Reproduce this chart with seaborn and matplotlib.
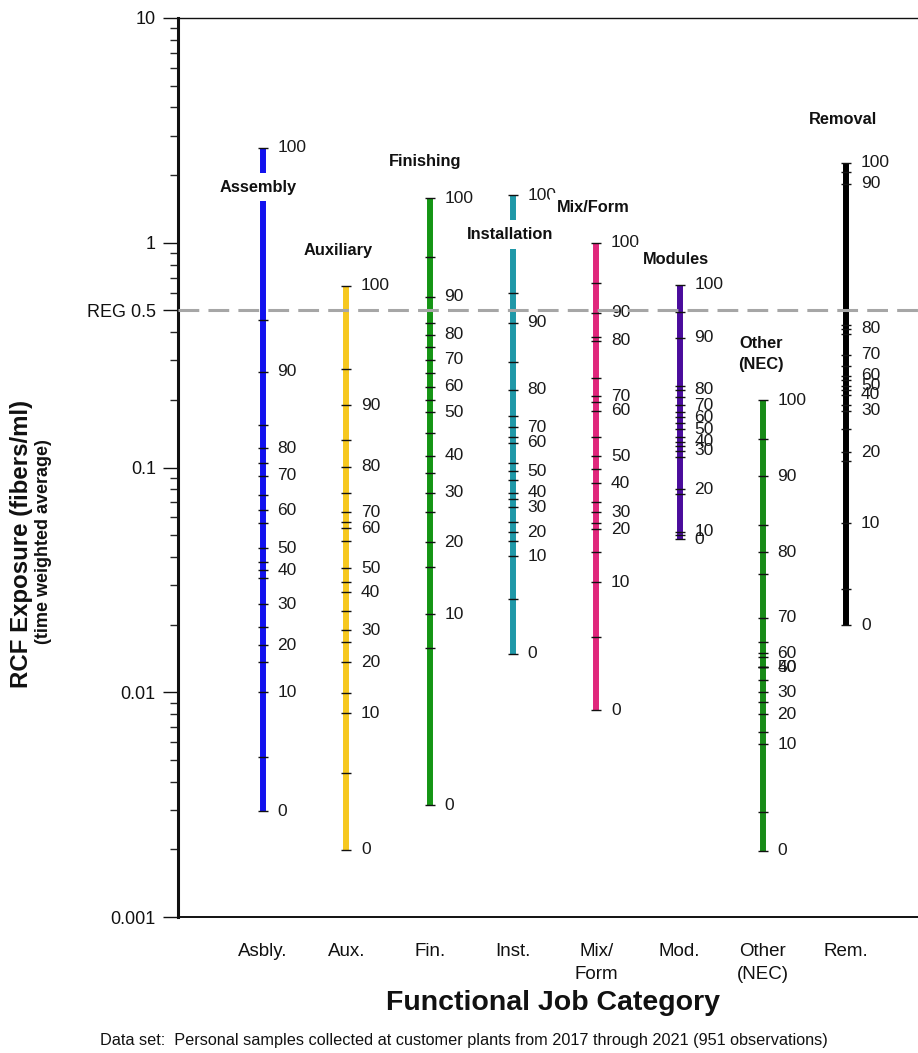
import numpy as np
import pandas as pd
import matplotlib
matplotlib.use("Agg")
import matplotlib.pyplot as plt
import matplotlib.ticker as mticker
import seaborn as sns

# Job categories and their short axis labels
categories = ["Assembly", "Auxiliary", "Finishing", "Installation",
              "Mix/Form", "Modules", "Other\n(NEC)", "Removal"]
short_names = ["Asbly.", "Aux.", "Fin.", "Inst.", "Mix/\nForm", "Mod.",
               "Other\n(NEC)", "Rem."]
colors = ["#1212ee", "#f6c81f", "#159515", "#1f98a8",
          "#e0277c", "#4a0c9c", "#178b17", "#000000"]

# Percentiles at which exposures are marked (labels every 10th)
percentiles = list(range(0, 101, 5))

# RCF exposure (fibers/ml, TWA) at each 5th percentile, 0th -> 100th
assembly = [0.00296, 0.00514, 0.0100, 0.0137, 0.0162, 0.0195, 0.0246, 0.0321,
            0.0349, 0.0378, 0.0437, 0.0564, 0.0644, 0.0751, 0.0921, 0.1052,
            0.1215, 0.1553, 0.267, 0.455, 2.64]
auxiliary = [0.00199, 0.00437, 0.00807, 0.0099, 0.0136, 0.0167, 0.0189, 0.0229,
             0.0278, 0.0311, 0.0356, 0.0469, 0.0536, 0.0570, 0.0631, 0.0774,
             0.101, 0.133, 0.189, 0.273, 0.644]
finishing = [0.00315, 0.0157, 0.0222, 0.0359, 0.0464, 0.0631, 0.0774, 0.0950,
             0.113, 0.143, 0.176, 0.199, 0.229, 0.264, 0.302, 0.345,
             0.390, 0.441, 0.575, 0.866, 1.58]
installation = [0.0148, 0.0259, 0.0402, 0.0469, 0.0514, 0.0570, 0.0664, 0.0721,
                0.0774, 0.0884, 0.0960, 0.105, 0.129, 0.136, 0.151, 0.169,
                0.222, 0.296, 0.441, 0.600, 1.63]
mix_form = [0.00832, 0.0177, 0.0308, 0.0419, 0.0530, 0.0564, 0.0631, 0.0699,
            0.0849, 0.0980, 0.112, 0.137, 0.179, 0.195, 0.207, 0.251,
            0.367, 0.382, 0.489, 0.664, 1.00]
modules = [0.0479, 0.0499, 0.0519, 0.0759, 0.0799, 0.111, 0.119, 0.125,
           0.130, 0.137, 0.148, 0.157, 0.167, 0.176, 0.189, 0.205,
           0.222, 0.231, 0.378, 0.494, 0.651]
other_nec = [0.00197, 0.00293, 0.00587, 0.00664, 0.00799, 0.00903, 0.0100, 0.0113,
             0.0129, 0.0129, 0.0129, 0.0143, 0.0149, 0.0167, 0.0215, 0.0335,
             0.0419, 0.0552, 0.0912, 0.1345, 0.199]
removal = [0.0199, 0.0287, 0.0564, 0.107, 0.117, 0.148, 0.179, 0.189,
           0.211, 0.222, 0.231, 0.244, 0.256, 0.284, 0.318, 0.394,
           0.415, 0.432, 1.83, 2.07, 2.27]

series = [assembly, auxiliary, finishing, installation,
          mix_form, modules, other_nec, removal]

reg_limit = 0.5
y_ticks = [0.001, 0.01, 0.1, 0.5, 1, 10]
y_tick_labels = ["0.001", "0.01", "0.1", "REG 0.5", "1", "10"]

# Long-form table: one row per (category, percentile)
rows = []
for i, (cat, vals) in enumerate(zip(categories, series)):
    for p, v in zip(percentiles, vals):
        rows.append({"category": cat, "pos": i, "pct": p, "value": v})
df = pd.DataFrame(rows)

sns.set_style("ticks")
plt.rcParams["font.family"] = ["Liberation Sans", "DejaVu Sans"]

W, H = 918, 1053
fig = plt.figure(figsize=(W / 100, H / 100), dpi=100)
ax = fig.add_axes([178 / W, 1 - 917 / H, 1 - 178 / W, (917 - 18) / H])

# Vertical percentile lines
sns.lineplot(data=df, x="pos", y="value", hue="category", units="category",
             estimator=None, sort=False, palette=dict(zip(categories, colors)),
             linewidth=4.3, legend=False, ax=ax, zorder=2,
             solid_capstyle="butt")

# Percentile tick marks across each line
for i, vals in enumerate(series):
    ax.plot([i] * len(vals), vals, linestyle="none", marker="_",
            markersize=7.5, markeredgewidth=1.0, color="#111111", zorder=3)
    for p, v in zip(percentiles, vals):
        if p % 10 == 0:
            ax.annotate(str(p), (i, v), xytext=(10.5, 0),
                        textcoords="offset points", ha="left", va="center",
                        fontsize=12.5, color="#1a1a1a", zorder=4)

# Category titles above each line
title_pos = [(-0.06, 1.77), (0.90, 0.92), (1.94, 2.29), (2.96, 1.085),
             (3.96, 1.43), (4.96, 0.84), (5.98, 0.32), (6.96, 3.52)]
for name, (tx, ty) in zip(categories, title_pos):
    ax.text(tx, ty, name, ha="center", va="center", fontsize=11.8,
            fontweight="bold", color="#111111", linespacing=1.5, zorder=5,
            bbox=dict(facecolor="white", edgecolor="none", pad=5.0))

# Regulatory limit
ref = ax.axhline(reg_limit, color="#a6a6a6", lw=2.2, zorder=6)
ref.set_dashes((6.8, 3.0))

ax.set_yscale("log")
ax.set_ylim(0.001, 10)
ax.set_xlim(-1.02, 7.86)
ax.set_yticks(y_ticks)
ax.set_yticklabels(y_tick_labels)
ax.yaxis.set_minor_locator(mticker.LogLocator(base=10, subs=np.arange(2, 10)))
ax.yaxis.set_minor_formatter(mticker.NullFormatter())
ax.tick_params(axis="y", which="major", length=11, width=1.0, pad=5,
               labelsize=13, colors="#111111")
ax.tick_params(axis="y", which="minor", length=6, width=1.0)
ax.set_xticks(range(len(categories)))
ax.set_xticklabels(short_names, linespacing=1.4)
ax.tick_params(axis="x", length=0, pad=19, labelsize=13.5, colors="#111111")
ax.set_xlabel("")
ax.set_ylabel("")

ax.spines["left"].set_linewidth(2.2)
ax.spines["bottom"].set_linewidth(1.4)
ax.spines["top"].set_linewidth(1.0)
ax.spines["right"].set_visible(False)
for s in ax.spines.values():
    s.set_color("#111111")

fig.text(553 / W, 1 - 1003 / H, "Functional Job Category", ha="center",
         va="center", fontsize=20.5, fontweight="bold", color="#111111")
fig.text(464 / W, 1 - 1040 / H,
         "Data set:  Personal samples collected at customer plants from 2017 "
         "through 2021 (951 observations)",
         ha="center", va="center", fontsize=11.7, color="#111111")
fig.text(22 / W, 1 - 544 / H, "RCF Exposure (fibers/ml)", rotation=90,
         ha="center", va="center", fontsize=17.3, fontweight="bold",
         color="#111111")
fig.text(44 / W, 1 - 542 / H, "(time weighted average)", rotation=90,
         ha="center", va="center", fontsize=13, fontweight="bold",
         color="#111111")

fig.savefig("out.png", dpi=100, facecolor="white")
